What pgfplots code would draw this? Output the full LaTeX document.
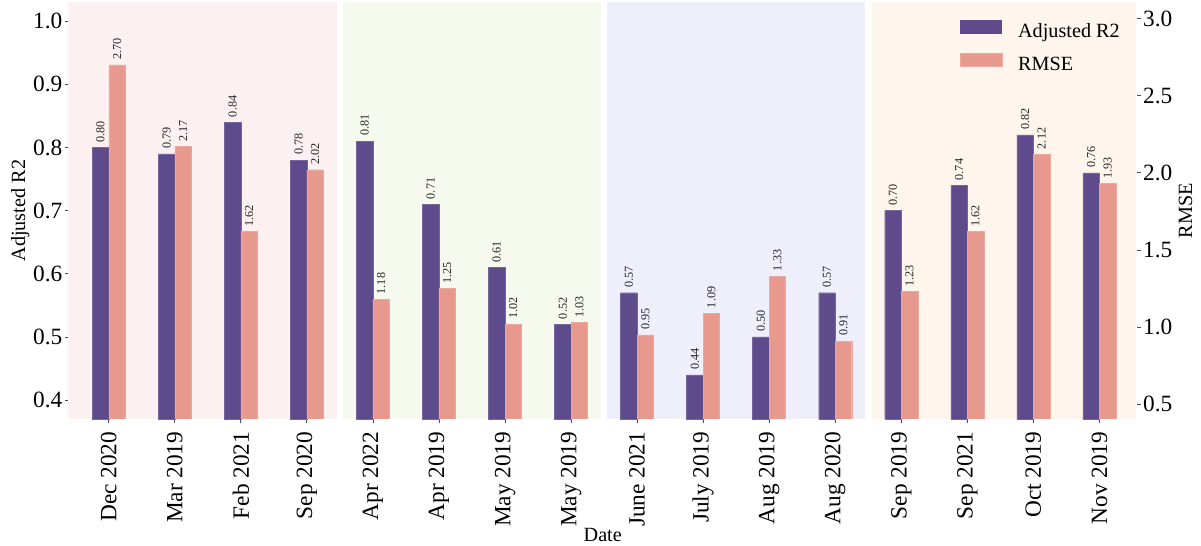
\documentclass[border=0pt]{standalone}
\usepackage{fontspec}
\setmainfont{Liberation Serif}
\usepackage{pgfplots}
\usepackage{pgfplotstable}
\pgfplotsset{compat=1.18}

\definecolor{rsq}{HTML}{5E4B8B}
\definecolor{err}{HTML}{E8998D}
\definecolor{bgA}{HTML}{FDF0F0}
\definecolor{bgB}{HTML}{F5F9EE}
\definecolor{bgC}{HTML}{EFEFFC}
\definecolor{bgD}{HTML}{FEF5EC}

% adjusted R2 and RMSE for each acquisition date
\pgfplotstableread{
x  r2   rmse
0  0.80 2.70
1  0.79 2.17
2  0.84 1.62
3  0.78 2.02
4  0.81 1.18
5  0.71 1.25
6  0.61 1.02
7  0.52 1.03
8  0.57 0.95
9  0.44 1.09
10 0.50 1.33
11 0.57 0.91
12 0.70 1.23
13 0.74 1.62
14 0.82 2.12
15 0.76 1.93
}\scores

\newcommand\tickfont{\fontsize{23.3bp}{26bp}\selectfont}
\newcommand\labfont{\fontsize{20.2bp}{23bp}\selectfont}
\newcommand\valfont{\fontsize{12.2bp}{14bp}\selectfont}

\pgfplotsset{
  common/.style={
    scale only axis, width=1068.5bp, height=416.7bp,
    xmin=-0.61, xmax=15.57,
    axis line style={draw=none},
    tick align=outside, major tick length=3.5bp,
    every tick/.style={draw=black!70, line width=0.8bp},
    /pgf/number format/assume math mode=true,
    tick label style={font=\tickfont},
    y tick label style={/pgf/number format/.cd, fixed, fixed zerofill, precision=1, /tikz/.cd},
    every node near coord/.append style={rotate=90, anchor=west,
      font=\valfont, inner xsep=5bp, inner ysep=0pt, text=black!85},
  },
  bars/.style={ybar, bar width=0.25, bar shift=0pt, fill=#1, draw=#1!85!white,
    line width=0.4bp,
    nodes near coords={\pgfmathprintnumber[fixed,fixed zerofill,precision=2]{\pgfplotspointmeta}}},
  patch legend/.style={legend image code/.code={%
    \fill[##1] (0bp,-0.5bp) rectangle (41.7bp,13.2bp);}},
}

\begin{document}
\begin{tikzpicture}
\begin{axis}[common,
  ymin=0.370, ymax=1.030,
  ytick={0.4,0.5,...,1.0},
  tick pos=left,
  xtick={0,...,15},
  xticklabels={Dec 2020, Mar 2019, Feb 2021, Sep 2020, Apr 2022, Apr 2019,
    May 2019, May 2019, June 2021, July 2019, Aug 2019, Aug 2020,
    Sep 2019, Sep 2021, Oct 2019, Nov 2019},
  xticklabel style={rotate=90, anchor=east, inner xsep=9bp},
  y tick label style={inner xsep=2.5bp},
  every axis x label/.style={at={(axis description cs:0.5,-0.2928)}, anchor=base, font=\labfont},
  xlabel={Date},
  every axis y label/.style={at={(axis description cs:-0.0405,0.5)}, rotate=90, anchor=base, font=\labfont},
  ylabel={Adjusted R2},
]
\coordinate (O) at (rel axis cs:0,0);
% shaded date groups
\addplot[fill=bgA, draw=none, forget plot] coordinates {(-0.61,0.37) (3.45,0.37) (3.45,1.03) (-0.61,1.03)} -- cycle;
\addplot[fill=bgB, draw=none, forget plot] coordinates {(3.55,0.37) (7.45,0.37) (7.45,1.03) (3.55,1.03)} -- cycle;
\addplot[fill=bgC, draw=none, forget plot] coordinates {(7.55,0.37) (11.45,0.37) (11.45,1.03) (7.55,1.03)} -- cycle;
\addplot[fill=bgD, draw=none, forget plot] coordinates {(11.55,0.37) (15.56,0.37) (15.56,1.03) (11.55,1.03)} -- cycle;
\addplot[bars=rsq] table[x expr=\thisrow{x}-0.125, y=r2] {\scores};
\end{axis}

\begin{axis}[common,
  ymin=0.405, ymax=3.105,
  ytick={0.5,1.0,...,3.0},
  tick pos=right,
  xtick=\empty,
  y tick label style={inner xsep=2.5bp},
  axis background/.style={fill=none},
  every axis y label/.style={at={(axis description cs:1.0515,0.5)}, rotate=90, anchor=base, font=\labfont},
  ylabel={RMSE},
  legend style={draw=none, fill=none, inner sep=0pt, outer sep=0pt,
    at={(rel axis cs:0.8344,0.957)}, anchor=north west,
    font=\labfont, row sep=10.3bp, column sep=16bp,
    nodes={inner sep=0pt, text depth=4.5bp, text height=13.5bp}},
  legend cell align=left,
]
\addlegendimage{fill=rsq, draw=none, patch legend}
\addlegendentry{Adjusted R2}
\addplot[bars=err, patch legend] table[x expr=\thisrow{x}+0.125, y=rmse] {\scores};
\addlegendentry{RMSE}
\end{axis}
\pgfresetboundingbox
\path (O) ++(-68.5bp,-127bp) rectangle ++(1201bp,546bp);
\end{tikzpicture}
\end{document}
